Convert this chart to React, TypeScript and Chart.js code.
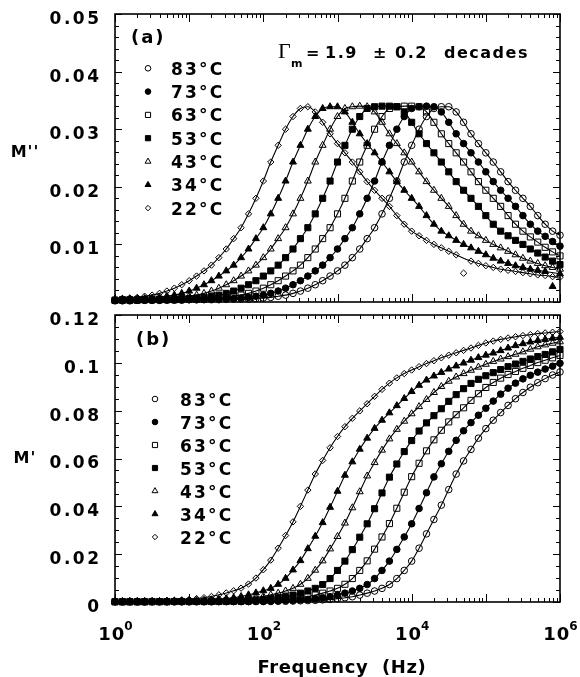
import React, { useEffect, useRef } from 'react';
import { Chart, registerables } from 'chart.js';
import { drawPoint } from 'chart.js/helpers';

Chart.register(...registerables);

// ---------- data ----------
const LOG_F = [
  0, 0.1, 0.2, 0.3, 0.4, 0.5, 0.6, 0.7, 0.8, 0.9,
  1, 1.1, 1.2, 1.3, 1.4, 1.5, 1.6, 1.7, 1.8, 1.9,
  2, 2.1, 2.2, 2.3, 2.4, 2.5, 2.6, 2.7, 2.8, 2.9,
  3, 3.1, 3.2, 3.3, 3.4, 3.5, 3.6, 3.7, 3.8, 3.9,
  4, 4.1, 4.2, 4.3, 4.4, 4.5, 4.6, 4.7, 4.8, 4.9,
  5, 5.1, 5.2, 5.3, 5.4, 5.5, 5.6, 5.7, 5.8, 5.9,
  6,
];
const FREQ = LOG_F.map((e) => Math.pow(10, e));

const TEMPS = ['83°C', '73°C', '63°C', '53°C', '43°C', '34°C', '22°C'];

// M'' (loss modulus)
const MPP_83 = [
  0.0002, 0.0002, 0.0002, 0.0003, 0.0003, 0.0003, 0.0003, 0.0003, 0.0003, 0.0003,
  0.0004, 0.0004, 0.0004, 0.0004, 0.0004, 0.0005, 0.0005, 0.0005, 0.0005, 0.0006,
  0.0007, 0.0008, 0.0010, 0.0012, 0.0015, 0.0019, 0.0024, 0.0030, 0.0037, 0.0045,
  0.0054, 0.0064, 0.0077, 0.0092, 0.0110, 0.0129, 0.0153, 0.0180, 0.0210, 0.0243,
  0.0272, 0.0300, 0.0322, 0.0336, 0.0339, 0.0339, 0.0330, 0.0312, 0.0292, 0.0275,
  0.0259, 0.0243, 0.0226, 0.0209, 0.0194, 0.0180, 0.0166, 0.0150, 0.0135, 0.0123,
  0.0116,
];
const MPP_73 = [
  0.0003, 0.0003, 0.0003, 0.0003, 0.0003, 0.0003, 0.0003, 0.0004, 0.0004, 0.0004,
  0.0004, 0.0004, 0.0005, 0.0005, 0.0005, 0.0005, 0.0006, 0.0007, 0.0008, 0.0010,
  0.0012, 0.0015, 0.0019, 0.0024, 0.0030, 0.0037, 0.0045, 0.0054, 0.0064, 0.0077,
  0.0092, 0.0110, 0.0129, 0.0153, 0.0180, 0.0210, 0.0243, 0.0272, 0.0300, 0.0322,
  0.0336, 0.0339, 0.0340, 0.0339, 0.0330, 0.0312, 0.0292, 0.0275, 0.0259, 0.0243,
  0.0226, 0.0209, 0.0194, 0.0180, 0.0166, 0.0150, 0.0135, 0.0123, 0.0114, 0.0105,
  0.0097,
];
const MPP_63 = [
  0.0003, 0.0003, 0.0003, 0.0003, 0.0004, 0.0004, 0.0004, 0.0004, 0.0004, 0.0005,
  0.0005, 0.0005, 0.0005, 0.0006, 0.0007, 0.0008, 0.0010, 0.0012, 0.0015, 0.0019,
  0.0024, 0.0030, 0.0037, 0.0045, 0.0054, 0.0064, 0.0077, 0.0092, 0.0110, 0.0129,
  0.0153, 0.0180, 0.0210, 0.0243, 0.0272, 0.0300, 0.0322, 0.0336, 0.0339, 0.0340,
  0.0340, 0.0339, 0.0330, 0.0312, 0.0292, 0.0275, 0.0259, 0.0243, 0.0226, 0.0209,
  0.0194, 0.0180, 0.0166, 0.0150, 0.0135, 0.0123, 0.0113, 0.0104, 0.0095, 0.0087,
  0.0080,
];
const MPP_53 = [
  0.0003, 0.0004, 0.0004, 0.0004, 0.0004, 0.0004, 0.0005, 0.0005, 0.0005, 0.0005,
  0.0006, 0.0007, 0.0008, 0.0010, 0.0012, 0.0015, 0.0019, 0.0024, 0.0030, 0.0037,
  0.0045, 0.0054, 0.0064, 0.0077, 0.0092, 0.0110, 0.0129, 0.0153, 0.0180, 0.0210,
  0.0243, 0.0272, 0.0300, 0.0322, 0.0336, 0.0339, 0.0340, 0.0340, 0.0339, 0.0330,
  0.0312, 0.0292, 0.0275, 0.0259, 0.0243, 0.0226, 0.0209, 0.0194, 0.0180, 0.0166,
  0.0150, 0.0135, 0.0123, 0.0115, 0.0107, 0.0100, 0.0092, 0.0085, 0.0078, 0.0071,
  0.0065,
];
const MPP_43 = [
  0.0004, 0.0004, 0.0004, 0.0005, 0.0005, 0.0005, 0.0005, 0.0006, 0.0007, 0.0008,
  0.0010, 0.0012, 0.0015, 0.0019, 0.0024, 0.0030, 0.0037, 0.0045, 0.0054, 0.0064,
  0.0077, 0.0092, 0.0110, 0.0129, 0.0153, 0.0180, 0.0210, 0.0243, 0.0272, 0.0300,
  0.0322, 0.0336, 0.0339, 0.0340, 0.0339, 0.0330, 0.0312, 0.0292, 0.0275, 0.0259,
  0.0243, 0.0226, 0.0209, 0.0194, 0.0180, 0.0166, 0.0150, 0.0135, 0.0123, 0.0115,
  0.0107, 0.0100, 0.0094, 0.0088, 0.0082, 0.0076, 0.0071, 0.0067, 0.0063, 0.0060,
  0.0057,
];
const MPP_34 = [
  0.0005, 0.0005, 0.0005, 0.0005, 0.0006, 0.0007, 0.0008, 0.0010, 0.0012, 0.0015,
  0.0019, 0.0024, 0.0030, 0.0037, 0.0045, 0.0054, 0.0064, 0.0077, 0.0092, 0.0110,
  0.0129, 0.0153, 0.0180, 0.0210, 0.0243, 0.0272, 0.0300, 0.0322, 0.0336, 0.0339,
  0.0339, 0.0330, 0.0312, 0.0292, 0.0275, 0.0259, 0.0243, 0.0226, 0.0209, 0.0194,
  0.0180, 0.0166, 0.0150, 0.0135, 0.0123, 0.0115, 0.0107, 0.0100, 0.0094, 0.0088,
  0.0082, 0.0076, 0.0071, 0.0067, 0.0063, 0.0060, 0.0057, 0.0055, 0.0053, null,
  0.0049,
];
const MPP_22 = [
  0.0005, 0.0006, 0.0007, 0.0008, 0.0010, 0.0012, 0.0015, 0.0019, 0.0024, 0.0030,
  0.0037, 0.0045, 0.0054, 0.0064, 0.0077, 0.0092, 0.0110, 0.0129, 0.0153, 0.0180,
  0.0210, 0.0243, 0.0272, 0.0300, 0.0322, 0.0336, 0.0339, 0.0330, 0.0312, 0.0292,
  0.0275, 0.0259, 0.0243, 0.0226, 0.0209, 0.0194, 0.0180, 0.0166, 0.0150, 0.0135,
  0.0123, 0.0115, 0.0107, 0.0100, 0.0094, 0.0088, 0.0082, null, 0.0071, 0.0067,
  0.0063, 0.0060, 0.0057, 0.0055, 0.0053, 0.0051, 0.0049, 0.0047, 0.0046, 0.0044,
  0.0043,
];
// stray points of panel (a)
const OUT_MPP_34_F = [794328];
const OUT_MPP_34 = [0.0027];
const OUT_MPP_22_F = [50119];
const OUT_MPP_22 = [0.0050];

// M' (storage modulus)
const MP_83 = [
  0.0001, 0.0001, 0.0001, 0.0001, 0.0001, 0.0001, 0.0001, 0.0001, 0.0001, 0.0001,
  0.0001, 0.0001, 0.0001, 0.0001, 0.0002, 0.0002, 0.0002, 0.0002, 0.0002, 0.0002,
  0.0002, 0.0002, 0.0003, 0.0003, 0.0004, 0.0005, 0.0006, 0.0007, 0.0009, 0.0011,
  0.0014, 0.0018, 0.0022, 0.0029, 0.0037, 0.0046, 0.0057, 0.0073, 0.0098, 0.0132,
  0.0171, 0.0225, 0.0285, 0.0345, 0.0405, 0.0470, 0.0535, 0.0590, 0.0638, 0.0685,
  0.0725, 0.0760, 0.0792, 0.0822, 0.0850, 0.0876, 0.0898, 0.0917, 0.0934, 0.0949,
  0.0962,
];
const MP_73 = [
  0.0001, 0.0001, 0.0001, 0.0001, 0.0001, 0.0001, 0.0001, 0.0001, 0.0001, 0.0001,
  0.0001, 0.0002, 0.0002, 0.0002, 0.0002, 0.0002, 0.0002, 0.0002, 0.0002, 0.0003,
  0.0003, 0.0004, 0.0005, 0.0006, 0.0007, 0.0009, 0.0011, 0.0014, 0.0018, 0.0022,
  0.0029, 0.0037, 0.0046, 0.0057, 0.0073, 0.0098, 0.0132, 0.0171, 0.0220, 0.0272,
  0.0327, 0.0391, 0.0457, 0.0523, 0.0578, 0.0630, 0.0676, 0.0716, 0.0750, 0.0781,
  0.0810, 0.0840, 0.0869, 0.0894, 0.0915, 0.0933, 0.0948, 0.0961, 0.0974, 0.0986,
  0.0998,
];
const MP_63 = [
  0.0001, 0.0001, 0.0001, 0.0001, 0.0001, 0.0001, 0.0001, 0.0001, 0.0002, 0.0002,
  0.0002, 0.0002, 0.0002, 0.0002, 0.0002, 0.0002, 0.0003, 0.0003, 0.0004, 0.0005,
  0.0006, 0.0007, 0.0009, 0.0011, 0.0014, 0.0018, 0.0023, 0.0029, 0.0037, 0.0046,
  0.0057, 0.0074, 0.0098, 0.0132, 0.0172, 0.0221, 0.0272, 0.0328, 0.0392, 0.0459,
  0.0524, 0.0580, 0.0632, 0.0678, 0.0718, 0.0753, 0.0783, 0.0812, 0.0843, 0.0871,
  0.0897, 0.0918, 0.0936, 0.0951, 0.0964, 0.0977, 0.0989, 0.1001, 0.1011, 0.1021,
  0.1031,
];
const MP_53 = [
  0.0001, 0.0001, 0.0001, 0.0001, 0.0001, 0.0002, 0.0002, 0.0002, 0.0002, 0.0002,
  0.0002, 0.0002, 0.0002, 0.0003, 0.0003, 0.0004, 0.0005, 0.0006, 0.0007, 0.0009,
  0.0011, 0.0014, 0.0018, 0.0022, 0.0029, 0.0037, 0.0046, 0.0057, 0.0073, 0.0098,
  0.0132, 0.0171, 0.0219, 0.0271, 0.0327, 0.0390, 0.0456, 0.0522, 0.0577, 0.0629,
  0.0675, 0.0715, 0.0749, 0.0779, 0.0808, 0.0839, 0.0867, 0.0892, 0.0914, 0.0931,
  0.0946, 0.0959, 0.0972, 0.0984, 0.0995, 0.1006, 0.1016, 0.1026, 0.1035, 0.1046,
  0.1056,
];
const MP_43 = [
  0.0001, 0.0001, 0.0002, 0.0002, 0.0002, 0.0002, 0.0002, 0.0002, 0.0002, 0.0002,
  0.0003, 0.0003, 0.0004, 0.0005, 0.0006, 0.0007, 0.0009, 0.0011, 0.0014, 0.0018,
  0.0023, 0.0030, 0.0037, 0.0046, 0.0057, 0.0074, 0.0099, 0.0133, 0.0172, 0.0222,
  0.0274, 0.0330, 0.0394, 0.0461, 0.0527, 0.0583, 0.0635, 0.0682, 0.0722, 0.0756,
  0.0787, 0.0817, 0.0847, 0.0876, 0.0901, 0.0923, 0.0941, 0.0955, 0.0969, 0.0982,
  0.0994, 0.1006, 0.1016, 0.1026, 0.1036, 0.1046, 0.1057, 0.1067, 0.1075, 0.1082,
  0.1088,
];
const MP_34 = [
  0.0002, 0.0002, 0.0002, 0.0002, 0.0002, 0.0002, 0.0002, 0.0003, 0.0003, 0.0004,
  0.0005, 0.0006, 0.0007, 0.0009, 0.0011, 0.0014, 0.0018, 0.0023, 0.0030, 0.0038,
  0.0047, 0.0057, 0.0074, 0.0099, 0.0134, 0.0173, 0.0223, 0.0275, 0.0332, 0.0396,
  0.0463, 0.0530, 0.0586, 0.0639, 0.0685, 0.0726, 0.0760, 0.0791, 0.0821, 0.0851,
  0.0880, 0.0906, 0.0928, 0.0945, 0.0960, 0.0974, 0.0987, 0.0999, 0.1011, 0.1022,
  0.1032, 0.1041, 0.1051, 0.1062, 0.1072, 0.1080, 0.1087, 0.1093, 0.1098, 0.1103,
  0.1107,
];
const MP_22 = [
  0.0002, 0.0002, 0.0002, 0.0003, 0.0003, 0.0004, 0.0005, 0.0006, 0.0007, 0.0009,
  0.0011, 0.0014, 0.0018, 0.0023, 0.0030, 0.0038, 0.0047, 0.0058, 0.0075, 0.0100,
  0.0135, 0.0175, 0.0225, 0.0278, 0.0335, 0.0400, 0.0468, 0.0535, 0.0592, 0.0645,
  0.0692, 0.0733, 0.0768, 0.0799, 0.0829, 0.0860, 0.0889, 0.0915, 0.0937, 0.0955,
  0.0970, 0.0984, 0.0997, 0.1009, 0.1021, 0.1032, 0.1042, 0.1052, 0.1062, 0.1073,
  0.1083, 0.1091, 0.1098, 0.1104, 0.1109, 0.1114, 0.1118, 0.1122, 0.1125, 0.1128,
  0.1131,
];

const MPP_ALL = [MPP_83, MPP_73, MPP_63, MPP_53, MPP_43, MPP_34, MPP_22];
const MP_ALL = [MP_83, MP_73, MP_63, MP_53, MP_43, MP_34, MP_22];

const Y_TICKS_A = [0.01, 0.02, 0.03, 0.04, 0.05];
const Y_TICKS_B = [0, 0.02, 0.04, 0.06, 0.08, 0.1, 0.12];
const X_LABEL_EXP = [0, 2, 4, 6];

// ---------- styles ----------
const FONT = "'DejaVu Sans', 'Liberation Sans', sans-serif";
const MARKERS = [
  { style: 'circle', filled: false, r: 3.3 },
  { style: 'circle', filled: true, r: 3.3 },
  { style: 'rect', filled: false, r: 4.3 },
  { style: 'rect', filled: true, r: 4.3 },
  { style: 'triangle', filled: false, r: 4 },
  { style: 'triangle', filled: true, r: 4 },
  { style: 'rectRot', filled: false, r: 3.2 },
];

function buildDatasets(series: (number | null)[][], outliers: { f: number[]; y: number[]; idx: number }[]) {
  const ds: any[] = series.map((vals, i) => {
    const m = MARKERS[i];
    return {
      label: TEMPS[i],
      data: FREQ.map((f, k) => ({ x: f, y: vals[k] })),
      borderColor: '#000',
      borderWidth: 1.1,
      pointStyle: m.style,
      pointRadius: m.r,
      pointBorderColor: '#000',
      pointBorderWidth: 1,
      pointBackgroundColor: m.filled ? '#000' : 'rgba(0,0,0,0)',
      cubicInterpolationMode: 'monotone',
      spanGaps: true,
      fill: false,
      clip: false,
    };
  });
  outliers.forEach((o) => {
    const m = MARKERS[o.idx];
    ds.push({
      label: TEMPS[o.idx] + ' stray',
      data: o.f.map((f, k) => ({ x: f, y: o.y[k] })),
      showLine: false,
      pointStyle: m.style,
      pointRadius: m.r,
      pointBorderColor: '#000',
      pointBorderWidth: 1,
      pointBackgroundColor: m.filled ? '#000' : 'rgba(0,0,0,0)',
      clip: false,
    });
  });
  return ds;
}

function txt(ctx: CanvasRenderingContext2D, s: string, x: number, y: number, font: string, ls = 0, align: CanvasTextAlign = 'left') {
  ctx.save();
  ctx.font = font;
  (ctx as any).letterSpacing = ls + 'px';
  ctx.textAlign = align;
  ctx.textBaseline = 'alphabetic';
  ctx.fillStyle = '#000';
  ctx.fillText(s, x, y);
  ctx.restore();
}

type Panel = {
  yMax: number;
  minorStep: number;
  minorPerMajor: number;
  padTop: number;
  xAxisH: number;
  panelLabel: string;
  panelLabelX: number;
  panelLabelY: number;
  yTitle: string;
  yTitleY: number;
  legMarkX: number;
  legTextX: number;
  legY0: number;
  legDY: number;
  xLabels: boolean;
  xLabelBase: number;
  xTitleBase: number;
  annotation: boolean;
};

function decorPlugin(p: Panel) {
  return {
    id: 'decor',
    beforeDraw(chart: any) {
      chart.ctx.letterSpacing = '2.5px';
    },
    afterDraw(chart: any) {
      const ctx: CanvasRenderingContext2D = chart.ctx;
      const { left, right, top, bottom } = chart.chartArea;
      const xs = chart.scales.x;
      const ys = chart.scales.y;
      ctx.save();
      (ctx as any).letterSpacing = '0px';
      ctx.strokeStyle = '#000';
      // frame
      ctx.lineWidth = 1.6;
      ctx.strokeRect(left, top, right - left, bottom - top);
      // inward ticks
      ctx.lineWidth = 1;
      ctx.beginPath();
      for (let d = 0; d <= 6; d++) {
        for (let m = 1; m <= 9; m++) {
          const v = m * Math.pow(10, d);
          if (v > 1e6) break;
          const px = Math.round(xs.getPixelForValue(v)) + 0.5;
          const len = m === 1 ? 8 : 4;
          ctx.moveTo(px, bottom);
          ctx.lineTo(px, bottom - len);
          ctx.moveTo(px, top);
          ctx.lineTo(px, top + len);
        }
      }
      const n = Math.round(p.yMax / p.minorStep);
      for (let i = 0; i <= n; i++) {
        const v = i * p.minorStep;
        const py = Math.round(ys.getPixelForValue(v)) + 0.5;
        const len = i % p.minorPerMajor === 0 ? 7 : 4;
        ctx.moveTo(left, py);
        ctx.lineTo(left + len, py);
        ctx.moveTo(right, py);
        ctx.lineTo(right - len, py);
      }
      ctx.stroke();
      ctx.restore();

      // panel label
      txt(ctx, p.panelLabel, p.panelLabelX, p.panelLabelY, `bold 18px ${FONT}`, 2);
      // y title
      txt(ctx, p.yTitle, 25, p.yTitleY, `bold 16px ${FONT}`, 1, 'center');

      // legend
      TEMPS.forEach((t, i) => {
        const m = MARKERS[i];
        const y = p.legY0 + i * p.legDY;
        ctx.save();
        ctx.strokeStyle = '#000';
        ctx.fillStyle = m.filled ? '#000' : '#fff';
        ctx.lineWidth = 1;
        drawPoint(ctx, { pointStyle: m.style, radius: m.r * 0.85, rotation: 0, borderWidth: 1 } as any, p.legMarkX, y);
        ctx.restore();
        txt(ctx, t, p.legTextX, y + 6.5, `bold 17px ${FONT}`, 2.2);
      });

      // annotation
      if (p.annotation) {
        txt(ctx, 'Γ', 278, 58, "22px 'Liberation Serif', 'DejaVu Serif', serif");
        txt(ctx, 'm', 291, 67, `bold 11px ${FONT}`);
        txt(ctx, '=', 306, 58, `bold 16px ${FONT}`);
        txt(ctx, '1.9', 325, 58, `bold 16px ${FONT}`, 1.5);
        txt(ctx, '±', 373, 58, `bold 16px ${FONT}`);
        txt(ctx, '0.2', 395, 58, `bold 16px ${FONT}`, 1.5);
        txt(ctx, 'decades', 444, 58, `bold 16px ${FONT}`, 1.5);
      }

      // x tick labels with exponents + x title
      if (p.xLabels) {
        const f1 = `bold 18px ${FONT}`;
        const f2 = `bold 12px ${FONT}`;
        X_LABEL_EXP.forEach((e) => {
          const px = xs.getPixelForValue(Math.pow(10, e));
          ctx.save();
          ctx.font = f1;
          (ctx as any).letterSpacing = '1px';
          const w1 = ctx.measureText('10').width;
          ctx.font = f2;
          (ctx as any).letterSpacing = '0px';
          const w2 = ctx.measureText(String(e)).width;
          ctx.restore();
          const x0 = px - (w1 + w2) / 2 + 1;
          txt(ctx, '10', x0, p.xLabelBase, f1, 1);
          txt(ctx, String(e), x0 + w1 - 1, p.xLabelBase - 10, f2, 0);
        });
        txt(ctx, 'Frequency  (Hz)', 342, p.xTitleBase, `bold 18px ${FONT}`, 0.6, 'center');
      }
    },
  };
}

function makeConfig(p: Panel, series: (number | null)[][], outliers: any[], yStep: number, fmt: (v: number) => string) {
  return {
    type: 'line',
    data: { datasets: buildDatasets(series, outliers) },
    options: {
      responsive: false,
      animation: false,
      devicePixelRatio: 1,
      events: [],
      layout: { padding: { left: 0, right: 20, top: p.padTop, bottom: 0 } },
      plugins: { legend: { display: false }, tooltip: { enabled: false }, title: { display: false } },
      scales: {
        x: {
          type: 'logarithmic',
          min: 1,
          max: 1e6,
          grid: { display: false, drawTicks: false },
          border: { display: false },
          ticks: { display: false },
          afterFit: (s: any) => {
            s.height = p.xAxisH;
            s.paddingLeft = 0; s.paddingRight = 0; s.paddingTop = 0; s.paddingBottom = 0;
          },
        },
        y: {
          type: 'linear',
          min: 0,
          max: p.yMax,
          grid: { display: false, drawTicks: false },
          border: { display: false },
          ticks: {
            stepSize: yStep,
            padding: 13.5,
            labelOffset: 5.5,
            color: '#000',
            font: { family: FONT, size: 17, weight: 'bold' },
            callback: (v: number) => fmt(v),
          },
          afterFit: (s: any) => {
            s.width = 115;
            s.paddingLeft = 0; s.paddingRight = 0; s.paddingTop = 0; s.paddingBottom = 0;
          },
        },
      },
    },
    plugins: [decorPlugin(p)],
  } as any;
}

const TOP_H = 308;
const BOT_H = 369;

const PANEL_A: Panel = {
  yMax: 0.05, minorStep: 0.002, minorPerMajor: 5, padTop: 14, xAxisH: TOP_H - 302,
  panelLabel: '(a)', panelLabelX: 131, panelLabelY: 43,
  yTitle: "M''", yTitleY: 157,
  legMarkX: 148, legTextX: 171, legY0: 68.3, legDY: 23.3,
  xLabels: false, xLabelBase: 0, xTitleBase: 0, annotation: true,
};
const PANEL_B: Panel = {
  yMax: 0.12, minorStep: 0.005, minorPerMajor: 4, padTop: 315 - TOP_H, xAxisH: BOT_H - (602 - TOP_H),
  panelLabel: '(b)', panelLabelX: 136, panelLabelY: 345 - TOP_H,
  yTitle: "M'", yTitleY: 463 - TOP_H,
  legMarkX: 155, legTextX: 180, legY0: 399 - TOP_H, legDY: 23,
  xLabels: true, xLabelBase: 640 - TOP_H, xTitleBase: 673 - TOP_H, annotation: false,
};

export default function App() {
  const topRef = useRef<HTMLCanvasElement>(null);
  const botRef = useRef<HTMLCanvasElement>(null);
  useEffect(() => {
    const fmtA = (v: number) => (Y_TICKS_A.some((t) => Math.abs(t - v) < 1e-9) ? v.toFixed(2) : '');
    const fmtB = (v: number) => {
      const t = Y_TICKS_B.find((q) => Math.abs(q - v) < 1e-9);
      return t === undefined ? '' : String(t);
    };
    const c1 = new Chart(
      topRef.current as HTMLCanvasElement,
      makeConfig(
        PANEL_A,
        MPP_ALL,
        [
          { f: OUT_MPP_34_F, y: OUT_MPP_34, idx: 5 },
          { f: OUT_MPP_22_F, y: OUT_MPP_22, idx: 6 },
        ],
        0.01,
        fmtA
      )
    );
    const c2 = new Chart(botRef.current as HTMLCanvasElement, makeConfig(PANEL_B, MP_ALL, [], 0.02, fmtB));
    return () => {
      c1.destroy();
      c2.destroy();
    };
  }, []);
  return (
    <div style={{ position: 'absolute', left: 0, top: 0, width: 580, height: 677, background: '#fff' }}>
      <canvas
        ref={topRef}
        width={580}
        height={TOP_H}
        style={{ position: 'absolute', left: 0, top: 0, width: 580, height: TOP_H }}
      />
      <canvas
        ref={botRef}
        width={580}
        height={BOT_H}
        style={{ position: 'absolute', left: 0, top: TOP_H, width: 580, height: BOT_H }}
      />
    </div>
  );
}
